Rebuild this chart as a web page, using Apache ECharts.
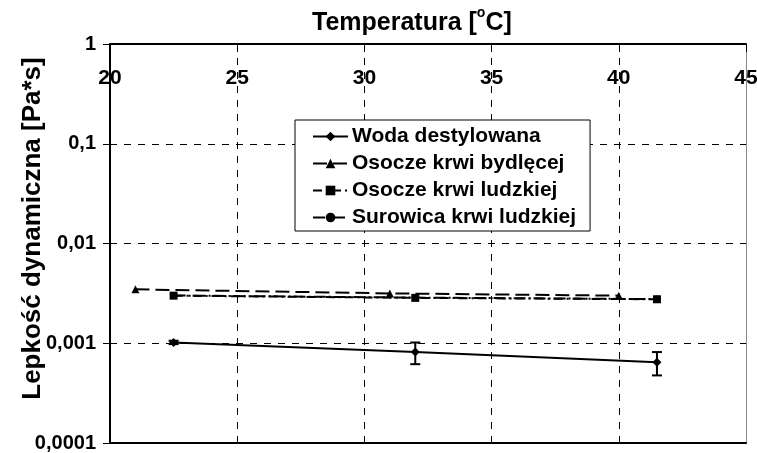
<!DOCTYPE html>
<html>
<head>
<meta charset="utf-8">
<script src="https://cdn.jsdelivr.net/npm/echarts@6/dist/echarts.min.js"></script>
<style>html,body{margin:0;padding:0;background:#fff;}#c{width:757px;height:453px;}</style>
</head>
<body>
<div id="c"></div>
<script>
// ---- data ----
const seriesNames = ['Woda destylowana', 'Osocze krwi bydlęcej', 'Osocze krwi ludzkiej', 'Surowica krwi ludzkiej'];
const wodaT = [22.5, 32, 41.5];
const wodaV = [0.00102, 0.000817, 0.000646];
const wodaErr = [0.00004, 0.0002, 0.00017];
const bydleceT = [21, 31, 40];
const bydleceV = [0.00347, 0.00316, 0.00300];
const ludzkieT = [22.5, 32, 41.5];
const ludzkieV = [0.00300, 0.00285, 0.00276];
const surowicaT = [22.5, 32, 41.5];
const surowicaV = [0.00301, 0.00287, 0.00277];
const xTicks = [20, 25, 30, 35, 40, 45];
const yTicks = [1, 0.1, 0.01, 0.001, 0.0001];
const yTickLabels = ['1', '0,1', '0,01', '0,001', '0,0001'];

const FONT = 'Liberation Sans, Arial, sans-serif';
const pairs = (xs, ys) => xs.map((x, i) => [x, ys[i]]);

const chart = echarts.init(document.getElementById('c'));
const errData = wodaT.map((t, i) => [t, wodaV[i] - wodaErr[i], wodaV[i] + wodaErr[i]]);

chart.setOption({
  animation: false,
  backgroundColor: '#fff',
  textStyle: { fontFamily: FONT },
  title: {
    text: '{a|Temperatura [}{s|o}{a|C]}',
    left: 312, top: 6,
    padding: 0,
    textStyle: {
      rich: {
        a: { fontFamily: FONT, fontWeight: 'bold', fontSize: 25, color: '#000', verticalAlign: 'bottom', lineHeight: 30 },
        s: { fontFamily: FONT, fontWeight: 'bold', fontSize: 14, color: '#000', verticalAlign: 'top', lineHeight: 30, padding: [0, 0, 12, 0] }
      }
    }
  },
  legend: {
    orient: 'vertical',
    left: 295, top: 120,
    padding: [6, 14, 3, 17],
    itemWidth: 35, itemHeight: 12, itemGap: 6,
    backgroundColor: '#fff',
    borderColor: '#000', borderWidth: 1,
    textStyle: { fontFamily: FONT, fontWeight: 'bold', fontSize: 21, lineHeight: 21, color: '#000', padding: [0, 0, 0, -1] },
    data: seriesNames
  },
  grid: { left: 110, right: 11, top: 44, bottom: 10, containLabel: false, outerBoundsMode: 'none' },
  xAxis: [{
    type: 'value', position: 'top', min: 20, max: 45, interval: 5,
    axisLine: { show: true, lineStyle: { color: '#000', width: 2 } },
    axisTick: { show: true, inside: true, length: 8, lineStyle: { color: '#000', width: 1 } },
    axisLabel: { inside: true, margin: 24, fontFamily: FONT, fontWeight: 'bold', fontSize: 21, color: '#000',
      hideOverlap: false,
      formatter: v => xTicks.includes(v) ? String(v) : '' },
    splitLine: { show: true, lineStyle: { color: '#000', type: [7, 7], width: 1 } }
  }, {
    type: 'value', position: 'bottom', min: 20, max: 45, interval: 5,
    axisLine: { show: true, onZero: false, lineStyle: { color: '#000', width: 2 } },
    axisTick: { show: false }, axisLabel: { show: false }, splitLine: { show: false }
  }],
  yAxis: [{
    type: 'log', logBase: 10, min: 0.0001, max: 1,
    name: 'Lepkość dynamiczna [Pa*s]',
    nameLocation: 'middle', nameGap: 64, nameRotate: 90, nameMoveOverlap: false,
    nameTextStyle: { fontFamily: FONT, fontWeight: 'bold', fontSize: 26, color: '#000', padding: [0, 0, 0, 30] },
    axisLine: { show: true, lineStyle: { color: '#000', width: 2 } },
    axisTick: { show: true, length: 7, lineStyle: { color: '#000', width: 1 } },
    axisLabel: { margin: 14, fontFamily: FONT, fontWeight: 'bold', fontSize: 20, color: '#000',
      formatter: v => {
        const i = yTicks.findIndex(t => Math.abs(Math.log10(t) - Math.log10(v)) < 1e-6);
        return i >= 0 ? yTickLabels[i] : '';
      } },
    splitLine: { show: true, lineStyle: { color: '#000', type: [7, 7], width: 1 } }
  }, {
    type: 'log', logBase: 10, min: 0.0001, max: 1, position: 'right',
    axisLine: { show: true, lineStyle: { color: '#888', width: 1 } },
    axisTick: { show: false }, axisLabel: { show: false }, splitLine: { show: false }
  }],
  series: [
    {
      name: seriesNames[0], type: 'line', data: pairs(wodaT, wodaV),
      symbol: 'diamond', symbolSize: 9, showSymbol: true,
      lineStyle: { color: '#000', width: 2, type: 'solid' },
      itemStyle: { color: '#000' }, z: 5
    },
    {
      name: seriesNames[1], type: 'line', data: pairs(bydleceT, bydleceV),
      symbol: 'triangle', symbolSize: 8,
      lineStyle: { color: '#000', width: 2, type: [14, 6] },
      itemStyle: { color: '#000' }, z: 4
    },
    {
      name: seriesNames[2], type: 'line', data: pairs(ludzkieT, ludzkieV),
      symbol: 'rect', symbolSize: 8,
      lineStyle: { color: '#000', width: 2, type: [9, 4, 2, 4] },
      itemStyle: { color: '#000' }, z: 4
    },
    {
      name: seriesNames[3], type: 'line', data: pairs(surowicaT, surowicaV),
      symbol: 'circle', symbolSize: 7,
      lineStyle: { color: '#000', width: 2, type: [12, 3, 2, 3] },
      itemStyle: { color: '#000' }, z: 3
    },
    {
      type: 'custom', data: errData, z: 6, silent: true,
      encode: { x: 0, y: [1, 2] },
      renderItem: (params, api) => {
        const x = api.value(0);
        const lo = api.coord([x, api.value(1)]);
        const hi = api.coord([x, api.value(2)]);
        const w = 5;
        const st = { stroke: '#000', lineWidth: 2 };
        return { type: 'group', children: [
          { type: 'line', shape: { x1: lo[0], y1: lo[1], x2: hi[0], y2: hi[1] }, style: st },
          { type: 'line', shape: { x1: lo[0] - w, y1: lo[1], x2: lo[0] + w, y2: lo[1] }, style: st },
          { type: 'line', shape: { x1: hi[0] - w, y1: hi[1], x2: hi[0] + w, y2: hi[1] }, style: st }
        ] };
      }
    }
  ]
});
</script>
</body>
</html>
